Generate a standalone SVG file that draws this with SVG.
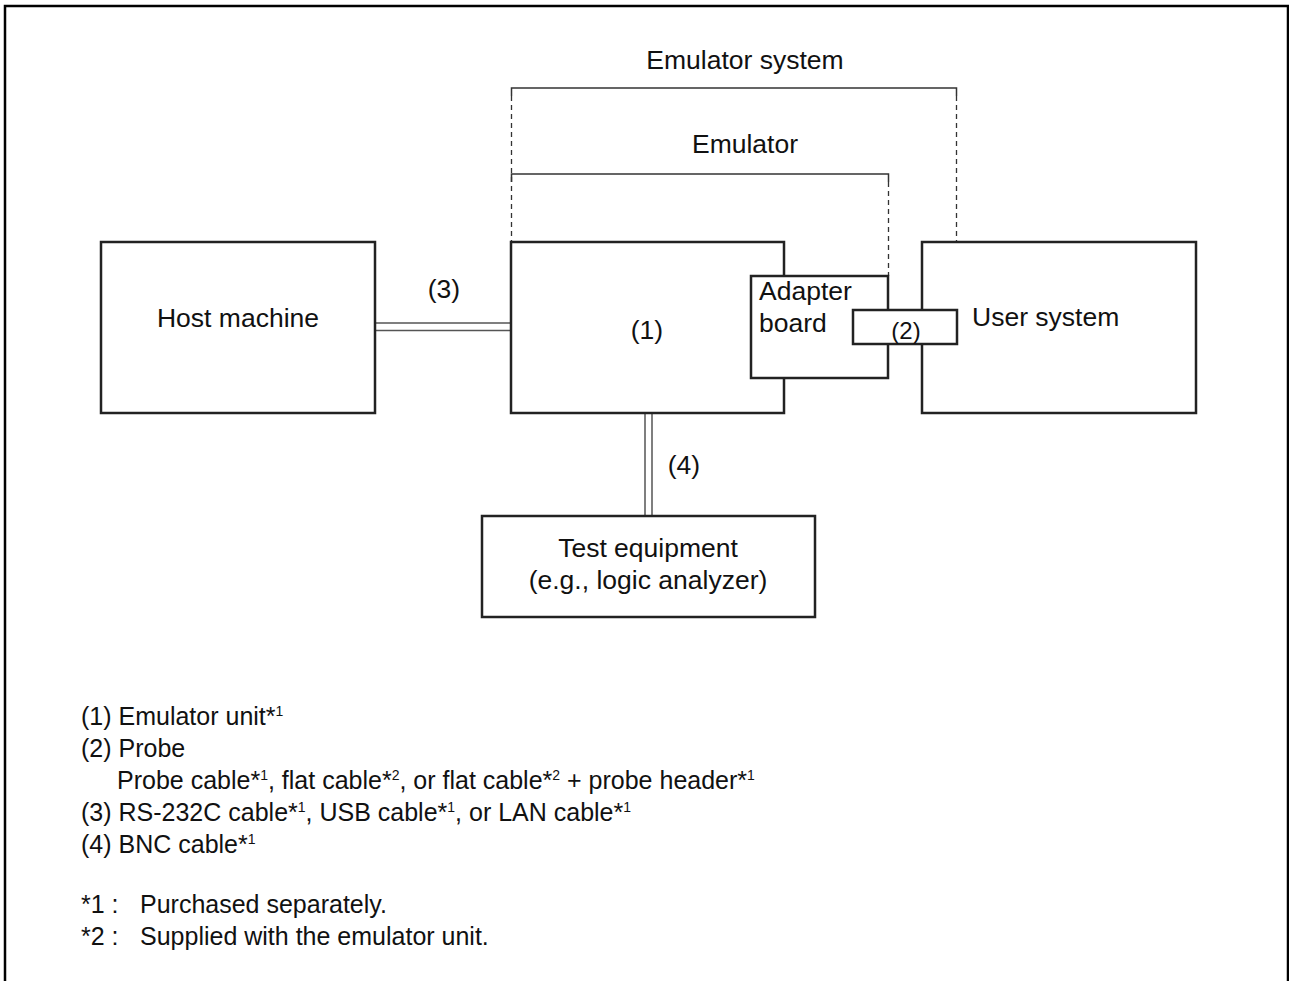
<svg xmlns="http://www.w3.org/2000/svg" width="1289" height="981" viewBox="0 0 1289 981">
<style>
.box{fill:#fff;stroke:#222;stroke-width:2.5}
.t{font-family:"Liberation Sans",Arial,sans-serif;font-size:26.5px;fill:#111}
.c{text-anchor:middle}
.lg{font-family:"Liberation Sans",Arial,sans-serif;font-size:25px;fill:#111}
.sup{font-size:14px}
.dash{fill:none;stroke:#333;stroke-width:1.3;stroke-dasharray:5 4}
.brk{fill:none;stroke:#333;stroke-width:1.5}
.cab{stroke:#555;stroke-width:1.5;fill:none}
</style>
<rect width="1289" height="981" fill="#fff"/>
<path d="M5,981 V6 H1288 V981" fill="none" stroke="#000" stroke-width="2.5"/>
<g id="brackets">
<path class="brk" d="M511.5,96 V88 H956.5 V96"/>
<path class="dash" d="M511.5,96 V241"/>
<path class="dash" d="M956.5,96 V310"/>
<path class="brk" d="M511.5,182 V174 H888.5 V182"/>
<path class="dash" d="M888.5,182 V276"/>
<text class="t c" x="745" y="69">Emulator system</text>
<text class="t c" x="745" y="153">Emulator</text>
</g>
<g id="connectors">
<line class="cab" x1="375" y1="323" x2="511" y2="323"/>
<line class="cab" x1="375" y1="330.5" x2="511" y2="330.5"/>
<line class="cab" x1="645" y1="412" x2="645" y2="516"/>
<line class="cab" x1="652" y1="412" x2="652" y2="516"/>
<text class="t c" x="444" y="298">(3)</text>
<text class="t c" x="684" y="474">(4)</text>
</g>
<g id="host">
<rect class="box" x="101" y="242" width="274" height="171"/>
<text class="t c" x="238" y="327">Host machine</text>
</g>
<g id="emulator-unit">
<rect class="box" x="511" y="242" width="273" height="171"/>
<text class="t c" x="647" y="339">(1)</text>
</g>
<g id="user-system">
<rect class="box" x="922" y="242" width="274" height="171"/>
<text class="t" x="972" y="326">User system</text>
</g>
<g id="adapter-board">
<rect class="box" x="751" y="276" width="137" height="102"/>
<text class="t" x="759" y="300">Adapter</text>
<text class="t" x="759" y="332">board</text>
</g>
<g id="probe">
<rect class="box" x="853" y="310" width="104" height="34"/>
<text class="t c" x="906" y="339" style="font-size:24px">(2)</text>
</g>
<g id="test-equipment">
<rect class="box" x="482" y="516" width="333" height="101"/>
<text class="t c" x="648" y="557">Test equipment</text>
<text class="t c" x="648" y="589">(e.g., logic analyzer)</text>
</g>
<g id="legend">
<text class="lg" x="81" y="725">(1) Emulator unit*<tspan class="sup" dy="-9">1</tspan></text>
<text class="lg" x="81" y="757">(2) Probe</text>
<text class="lg" x="117" y="789">Probe cable*<tspan class="sup" dy="-9">1</tspan><tspan dy="9">, flat cable*</tspan><tspan class="sup" dy="-9">2</tspan><tspan dy="9">, or flat cable*</tspan><tspan class="sup" dy="-9">2</tspan><tspan dy="9"> + probe header*</tspan><tspan class="sup" dy="-9">1</tspan></text>
<text class="lg" x="81" y="821">(3) RS-232C cable*<tspan class="sup" dy="-9">1</tspan><tspan dy="9">, USB cable*</tspan><tspan class="sup" dy="-9">1</tspan><tspan dy="9">, or LAN cable*</tspan><tspan class="sup" dy="-9">1</tspan></text>
<text class="lg" x="81" y="853">(4) BNC cable*<tspan class="sup" dy="-9">1</tspan></text>
<text class="lg" x="81" y="913">*1 :</text>
<text class="lg" x="140" y="913">Purchased separately.</text>
<text class="lg" x="81" y="945">*2 :</text>
<text class="lg" x="140" y="945">Supplied with the emulator unit.</text>
</g>
</svg>
